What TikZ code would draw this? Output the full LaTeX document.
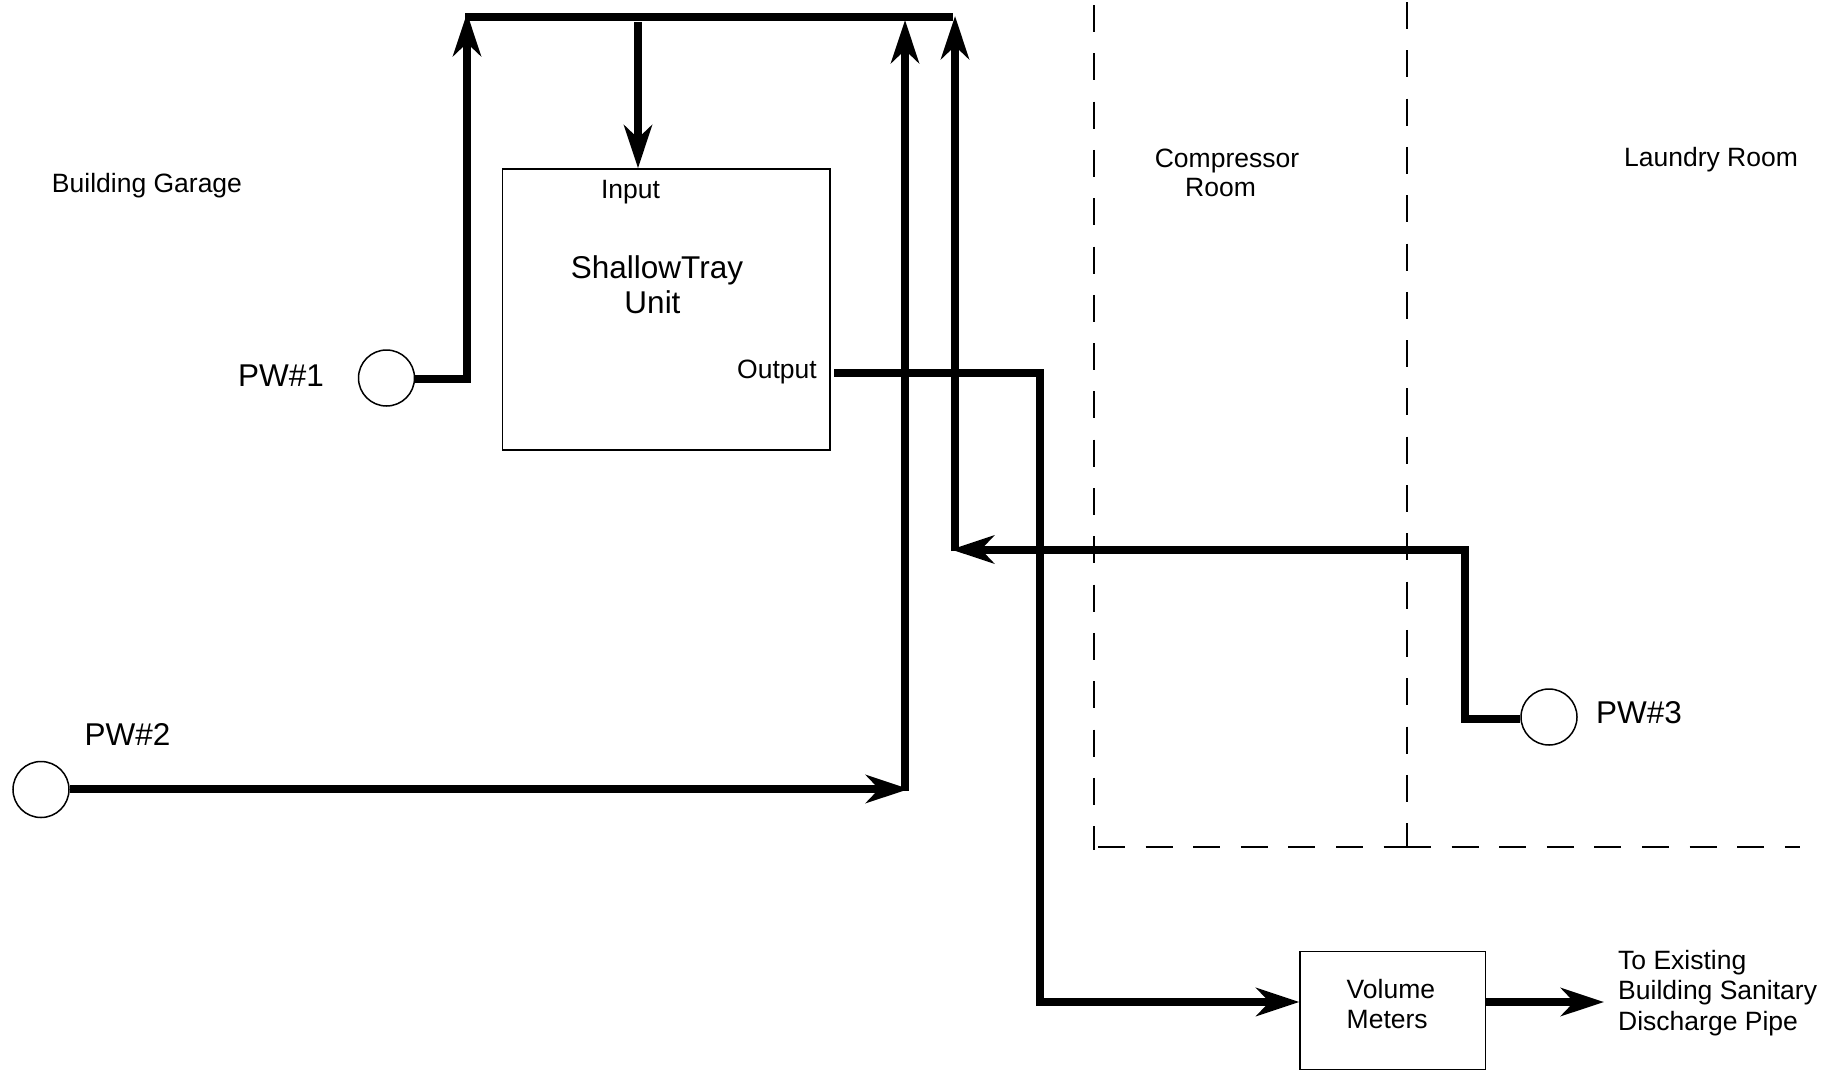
\documentclass[tikz,border=0pt]{standalone}
\usepackage{fontspec}
\setmainfont{Liberation Sans}
\usetikzlibrary{arrows.meta}
\tikzset{
  pipe/.style={line width=8pt,line join=miter},
  flow/.style={pipe,-{Stealth[length=43pt,width=28pt,inset=13pt]}},
  well/.style={circle,draw,line width=1.5pt,minimum size=56pt,inner sep=0pt},
  box/.style={draw,line width=1.5pt,rectangle,inner sep=0pt},
  wall/.style={line width=2.2pt,dash pattern=on 27pt off 21.3pt},
  wallh/.style={line width=2.4pt,dash pattern=on 27pt off 20.6pt},
  lbl/.style={font=\fontsize{26.5pt}{30.5pt}\selectfont,align=center,inner sep=0pt},
  big/.style={font=\fontsize{31.5pt}{35pt}\selectfont,align=center,inner sep=0pt}
}
\begin{document}
\begin{tikzpicture}[x=1pt,y=-1pt]
\useasboundingbox (0,0) rectangle (1841,1071);
\fill[white] (0,0) rectangle (1841,1071);
% rooms
\coordinate (w1t) at (1094,5); \coordinate (w1b) at (1094,850);
\coordinate (w2t) at (1407,2); \coordinate (w2b) at (1407,847);
\coordinate (wl) at (1098,847); \coordinate (wm) at (1411,847);
\coordinate (wn) at (1404,847); \coordinate (wr) at (1800,847);
\draw[wall] (w1t) -- (w1b);
\draw[wall] (w2t) -- (w2b);
\draw[wallh] (wl) -- (wm);
\draw[wallh] (wn) -- (wr);
% boxes
\node[box,minimum width=327.5pt,minimum height=281pt] (unit) at (666.2,309.5) {};
\node[box,minimum width=185.5pt,minimum height=118pt] (meter) at (1392.9,1010.5) {};
\node[well] (pw1) at (386.5,378) {};
\node[well] (pw2) at (41,789.5) {};
\node[well] (pw3) at (1549,717) {};
% coordinates
\coordinate (p1b) at (467,379);
\coordinate (tl) at (467,13);
\coordinate (bl) at (465,16.5);
\coordinate (tr) at (953,16.5);
\coordinate (tin) at (638,22);
\coordinate (c2h) at (909,789);
\coordinate (c2b) at (905,791);
\coordinate (c2t) at (905,20);
\coordinate (c3) at (955,551);
\coordinate (c3h) at (951,549.5);
\coordinate (c3t) at (955,16);
\coordinate (out) at (834,372.5);
\coordinate (oc) at (1040,372.5);
\coordinate (od) at (1040,1002);
\coordinate (p3a) at (1465,718.5);
\coordinate (p3b) at (1465,549.5);
\coordinate (dis) at (1604,1002);
% pipes
\draw[pipe] (pw1.east |- p1b) -- (p1b) -- (467,60);
\draw[flow] (467,80) -- (tl);
\draw[pipe] (bl) -- (tr);
\draw[flow] (tin) -- (unit.north -| tin);
\draw[flow] (pw2.east |- c2h) -- (c2h);
\draw[flow] (c2b) -- (c2t);
\draw[flow] (c3) -- (c3t);
\draw[flow] (pw3.west |- p3a) -- (p3a) -- (p3b) -- (c3h);
\draw[flow] (out) -- (oc) -- (od) -- (meter.west |- od);
\draw[flow] (meter.east |- dis) -- (dis);
% labels
\node[lbl] (g) at (147,186) {Building Garage};
\node[lbl] (i) at (630.5,192) {Input};
\node[big] (s) at (657,285) {ShallowTray\\Unit\hspace*{9pt}};
\node[lbl] (o) at (777,372) {Output};
\node[big] (l1) at (281,376) {PW\#1};
\node[big] (l2) at (127.5,734) {PW\#2};
\node[big] (l3) at (1639,713) {PW\#3};
\node[lbl,font=\fontsize{26.5pt}{29pt}\selectfont] (c) at (1227,173) {Compressor\\Room\hspace*{13pt}};
\node[lbl] (r) at (1711,160) {Laundry Room};
\node[lbl,align=left,anchor=west] (v) at (1346.5,1004) {Volume\\Meters};
\node[lbl,align=left,anchor=west] (e) at (1618,993) {To Existing\\Building Sanitary\\Discharge Pipe};
\end{tikzpicture}
\end{document}
